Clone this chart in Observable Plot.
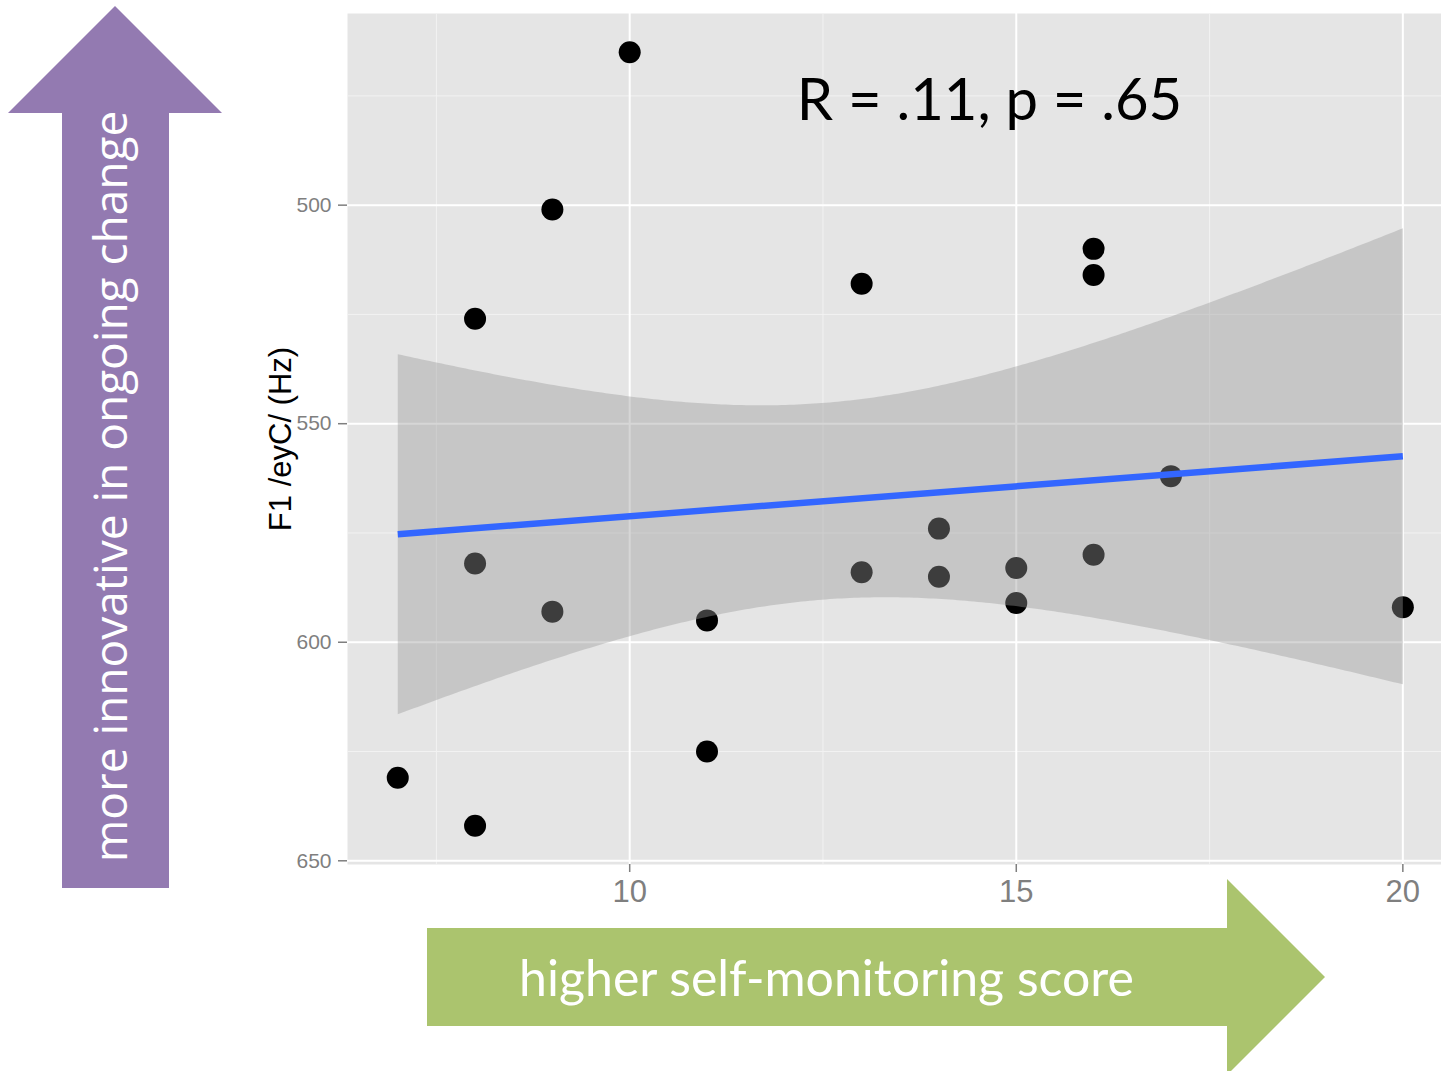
<!DOCTYPE html>
<html><head><meta charset="utf-8">
<script src="https://cdn.jsdelivr.net/npm/d3@7"></script>
<script src="https://cdn.jsdelivr.net/npm/@observablehq/plot@0.6"></script>
<style>
body{margin:0;background:#fff}
#wrap{position:relative;width:1441px;height:1071px;overflow:hidden;background:#fff}
#wrap svg.overlay{position:absolute;left:0;top:0;pointer-events:none}
</style>
</head><body><div id="wrap"></div>
<script>
// self-monitoring score (x) and F1 /eyC/ in Hz (y)
const selfMonitoring = [10, 9, 8, 13, 16, 16, 17, 14, 16, 8, 13, 14, 15, 15, 9, 20, 11, 11, 7, 8];
const f1Hz = [465, 501, 526, 518, 510, 516, 562, 574, 580, 582, 584, 585, 583, 591, 593, 592, 595, 625, 631, 642];
const xTicks = [10, 15, 20];
const xMinorTicks = [7.5, 12.5, 17.5];
const yTicks = [500, 550, 600, 650];
const yMinorTicks = [475, 525, 575, 625];
const yLabel = "F1 /eyC/ (Hz)";
const statLabel = "R = .11, p = .65";
const upArrowLabel = "more innovative in ongoing change";
const rightArrowLabel = "higher self-monitoring score";

const data = selfMonitoring.map((x, i) => ({x, y: f1Hz[i]}));

const chart = Plot.plot({
  width: 1441,
  height: 1071,
  marginLeft: 347,
  marginRight: 0,
  marginTop: 13,
  marginBottom: 207,
  style: {background: "transparent", fontFamily: "'Liberation Sans', Arial, sans-serif"},
  x: {domain: [6.35, 20.5]},
  y: {domain: [456.15, 650.85], reverse: true},
  marks: [
    Plot.frame({fill: "#E5E5E5", stroke: "none"}),
    Plot.gridX(xMinorTicks, {stroke: "#F2F2F2", strokeOpacity: 1, strokeWidth: 1}),
    Plot.gridY(yMinorTicks, {stroke: "#F2F2F2", strokeOpacity: 1, strokeWidth: 1}),
    Plot.gridX(xTicks, {stroke: "#FFFFFF", strokeOpacity: 1, strokeWidth: 2}),
    Plot.gridY(yTicks, {stroke: "#FFFFFF", strokeOpacity: 1, strokeWidth: 2}),
    Plot.axisX(xTicks, {tickSize: 8, tickPadding: 7, fontSize: 31, color: "#7F7F7F", strokeWidth: 1.5, label: null}),
    Plot.axisY(yTicks, {tickSize: 9, tickPadding: 7, fontSize: 21, color: "#7F7F7F", strokeWidth: 1.5, label: null}),
    Plot.text([yLabel], {text: d => d, frameAnchor: "left", textAnchor: "middle", dx: -66, rotate: -90, fontSize: 31, fill: "black"}),
    Plot.dot(data, {x: "x", y: "y", r: 11, fill: "black", stroke: "none"}),
    Plot.linearRegressionY(data, {x: "x", y: "y", ci: 0.95, stroke: "#3366FF", strokeWidth: 6.5, strokeLinecap: "butt", fill: "#999999", fillOpacity: 0.4}),
    Plot.text([statLabel], {text: d => d, frameAnchor: "top", dx: 95, dy: 65, lineAnchor: "top", fontSize: 58, fill: "black", fontFamily: "Lato, 'Open Sans', sans-serif"})
  ]
});

const wrap = document.getElementById("wrap");
wrap.appendChild(chart);

// decorative arrows with their captions
const ns = "http://www.w3.org/2000/svg";
const ov = document.createElementNS(ns, "svg");
ov.setAttribute("class", "overlay");
ov.setAttribute("width", 1441);
ov.setAttribute("height", 1071);
ov.innerHTML = `
  <polygon points="115,6 222,113 169,113 169,888 62,888 62,113 8,113" fill="#937AB1"/>
  <text transform="translate(127,486.5) rotate(-90)" text-anchor="middle" fill="#fff" font-family="'Open Sans', sans-serif" font-size="46">${upArrowLabel}</text>
  <polygon points="427,928 1227,928 1227,879 1325,977 1227,1075 1227,1026 427,1026" fill="#ABC46E"/>
  <text x="826.5" y="996" text-anchor="middle" fill="#fff" font-family="Lato, 'Open Sans', sans-serif" font-size="50">${rightArrowLabel}</text>
`;
wrap.appendChild(ov);
</script>
</body></html>
